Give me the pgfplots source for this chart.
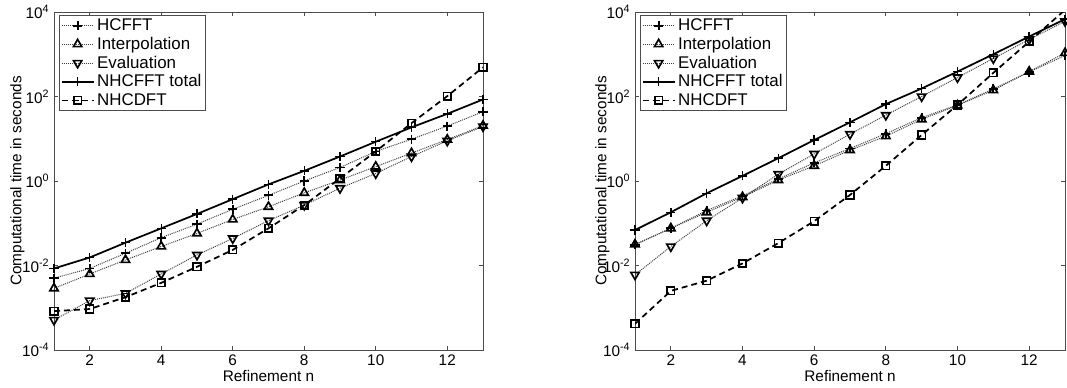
\documentclass[border=0pt]{standalone}
\usepackage{pgfplots}
\pgfplotsset{compat=1.18}
\usepackage{fontspec}
\setmainfont{Liberation Sans}
\newcommand{\fs}{\fontsize{11.5}{13.5}\selectfont}
\newcommand{\lfs}{\fontsize{12.7}{14}\selectfont}
\pgfplotsset{
  hc/.style={black!75, line width=0.75pt, dash pattern=on 0.75pt off 0.75pt, mark=+, mark size=3.4pt, mark options={solid, black, line width=1.35pt}},
  ip/.style={black!75, line width=0.75pt, dash pattern=on 0.75pt off 0.75pt, mark=triangle, mark size=3.6pt, mark options={solid, black, line width=1.25pt}},
  ev/.style={black!75, line width=0.75pt, dash pattern=on 0.75pt off 0.75pt, mark=triangle, mark size=3.6pt, mark options={solid, black, line width=1.25pt, rotate=180}},
  tot/.style={black, line width=1.3pt, mark=+, mark size=3.4pt, mark options={solid, black, line width=1.1pt}},
  dft/.style={black, line width=1.3pt, dash pattern=on 4.5pt off 3pt, mark=square, mark size=2.8pt, mark options={solid, black, line width=1.25pt}},
}
\begin{document}
\begin{tikzpicture}
\useasboundingbox (-40.5pt,-27.75pt) rectangle (759.75pt,262.5pt);
\begin{semilogyaxis}[at={(0pt,0pt)}, anchor=south west, width=321.75pt, height=253.5pt,
    scale only axis,
    xmin=1, xmax=13, ymin=1e-4, ymax=1e4,
    xtick={2,4,6,8,10,12},
    xticklabels={2,4,6,8,10,12},
    ytick={1e-4,1e-2,1,1e2,1e4},
    yticklabels={10\textsuperscript{-4},10\textsuperscript{-2},10\textsuperscript{0},10\textsuperscript{2},10\textsuperscript{4}},
    yminorticks=false, xminorticks=false,
    tick align=inside,
    major tick length=3pt,
    axis line style={black!70, line width=0.6pt},
    every tick/.style={black!70, line width=0.6pt},
    tick label style={font=\fs},
    label style={font=\fs},
    xlabel={Refinement n},
    ylabel={Computational time in seconds},
    xlabel style={at={(axis description cs:0.5,-0.077)}, anchor=center},
    ylabel style={at={(axis description cs:-0.085,0.5)}, anchor=center},
    legend style={font=\lfs, draw=black!70, line width=0.5pt, anchor=north west, at={(0.012,0.991)}, inner xsep=1pt, inner ysep=0.5pt, row sep=-0.6pt},
    legend cell align=left,
    legend image code/.code={\draw[mark repeat=2,mark phase=2,#1] plot coordinates {(0cm,0cm)(0.42cm,0cm)(0.84cm,0cm)};},
    clip marker paths=false]
\addplot[hc] coordinates {(1,5.01e-3)(2,8.51e-3)(3,0.0195)(4,0.0457)(5,0.0955)(6,0.214)(7,0.457)(8,1.0)(9,2.09)(10,5.01)(11,9.77)(12,19.95)(13,43.7)};
\addlegendentry{HCFFT}
\addplot[ip] coordinates {(1,2.88e-3)(2,6.31e-3)(3,0.0135)(4,0.0282)(5,0.0575)(6,0.123)(7,0.245)(8,0.525)(9,1.05)(10,2.19)(11,4.57)(12,9.55)(13,20.4)};
\addlegendentry{Interpolation}
\addplot[ev] coordinates {(1,5.13e-4)(2,1.48e-3)(3,2.19e-3)(4,6.31e-3)(5,0.0178)(6,0.0437)(7,0.115)(8,0.269)(9,0.676)(10,1.51)(11,3.80)(12,8.91)(13,19.5)};
\addlegendentry{Evaluation}
\addplot[tot] coordinates {(1,8.51e-3)(2,0.0155)(3,0.0347)(4,0.0759)(5,0.166)(6,0.372)(7,0.832)(8,1.74)(9,3.80)(10,8.51)(11,18.6)(12,38.9)(13,85.1)};
\addlegendentry{NHCFFT total}
\addplot[dft] coordinates {(1,8.32e-4)(2,9.33e-4)(3,1.78e-3)(4,3.89e-3)(5,9.33e-3)(6,0.0234)(7,0.0759)(8,0.269)(9,1.15)(10,5.01)(11,23.4)(12,102)(13,490)};
\addlegendentry{NHCDFT}
\end{semilogyaxis}
\begin{semilogyaxis}[at={(435.75pt,0pt)}, anchor=south west, width=322.5pt, height=253.5pt,
    scale only axis,
    xmin=1, xmax=13, ymin=1e-4, ymax=1e4,
    xtick={2,4,6,8,10,12},
    xticklabels={2,4,6,8,10,12},
    ytick={1e-4,1e-2,1,1e2,1e4},
    yticklabels={10\textsuperscript{-4},10\textsuperscript{-2},10\textsuperscript{0},10\textsuperscript{2},10\textsuperscript{4}},
    yminorticks=false, xminorticks=false,
    tick align=inside,
    major tick length=3pt,
    axis line style={black!70, line width=0.6pt},
    every tick/.style={black!70, line width=0.6pt},
    tick label style={font=\fs},
    label style={font=\fs},
    xlabel={Refinement n},
    ylabel={Computational time in seconds},
    xlabel style={at={(axis description cs:0.5,-0.077)}, anchor=center},
    ylabel style={at={(axis description cs:-0.076,0.5)}, anchor=center},
    legend style={font=\lfs, draw=black!70, line width=0.5pt, anchor=north west, at={(0.012,0.991)}, inner xsep=1pt, inner ysep=0.5pt, row sep=-0.6pt},
    legend cell align=left,
    legend image code/.code={\draw[mark repeat=2,mark phase=2,#1] plot coordinates {(0cm,0cm)(0.42cm,0cm)(0.84cm,0cm)};},
    clip marker paths=false]
\addplot[hc] coordinates {(1,0.0309)(2,0.0759)(3,0.200)(4,0.447)(5,1.12)(6,2.69)(7,5.89)(8,13.2)(9,31.6)(10,63.1)(11,151)(12,380)(13,933)};
\addlegendentry{HCFFT}
\addplot[ip] coordinates {(1,0.0316)(2,0.0759)(3,0.182)(4,0.417)(5,1.05)(6,2.29)(7,5.37)(8,11.5)(9,28.8)(10,61.7)(11,141)(12,389)(13,1072)};
\addlegendentry{Interpolation}
\addplot[ev] coordinates {(1,6.03e-3)(2,0.0282)(3,0.115)(4,0.398)(5,1.45)(6,4.37)(7,12.9)(8,36.3)(9,100)(10,282)(11,794)(12,2239)(13,6026)};
\addlegendentry{Evaluation}
\addplot[tot] coordinates {(1,0.0692)(2,0.182)(3,0.513)(4,1.32)(5,3.47)(6,9.33)(7,24.5)(8,66.1)(9,155)(10,389)(11,1000)(12,2630)(13,6761)};
\addlegendentry{NHCFFT total}
\addplot[dft] coordinates {(1,4.17e-4)(2,2.51e-3)(3,4.37e-3)(4,0.0112)(5,0.0339)(6,0.112)(7,0.468)(8,2.29)(9,12.3)(10,63.1)(11,363)(12,1995)};
\addlegendentry{NHCDFT}
\addplot[dft, no marks, forget plot] coordinates {(12,1995)(13,11220)};
\end{semilogyaxis}
\end{tikzpicture}
\end{document}
